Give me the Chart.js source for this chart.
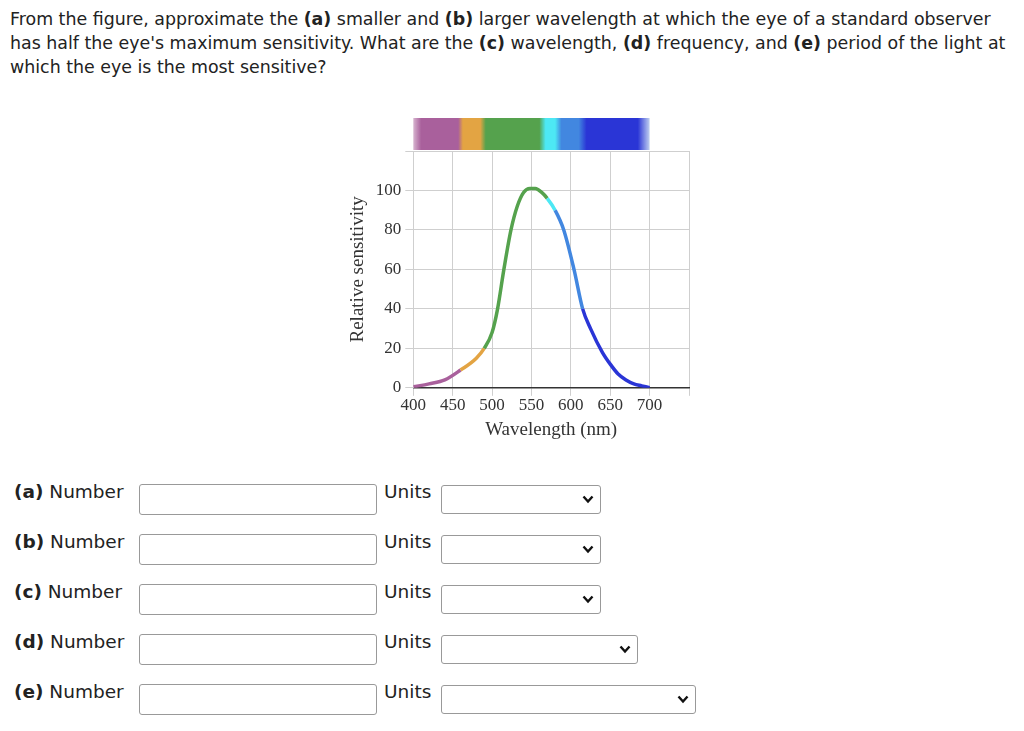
<!DOCTYPE html>
<html><head><meta charset="utf-8">
<script src="https://cdn.jsdelivr.net/npm/chart.js@4"></script>
<style>
body{margin:0;background:#fff;font-family:"DejaVu Sans",sans-serif;color:#222;}
#q{position:absolute;left:10px;top:7px;width:1005px;font-size:17.4px;line-height:24px;}
#c{position:absolute;left:343px;top:110px;}
.row{position:absolute;left:14px;font-size:18.5px;}
.inp{position:absolute;left:139px;width:238px;height:31px;border:1px solid #999;border-radius:3px;box-sizing:border-box;}
.un{position:absolute;left:384px;font-size:18.5px;}
.sel{position:absolute;left:441px;height:29px;border:1px solid #999;border-radius:3px;box-sizing:border-box;}
.sel svg{position:absolute;right:6px;top:9px;}
</style></head><body>
<div id="q">From the figure, approximate the <b>(a)</b> smaller and <b>(b)</b> larger wavelength at which the eye of a standard observer has half the eye's maximum sensitivity. What are the <b>(c)</b> wavelength, <b>(d)</b> frequency, and <b>(e)</b> period of the light at which the eye is the most sensitive?</div>
<canvas id="c" width="350" height="335" style="width:350px;height:335px"></canvas>
<div id="form"></div>
<script>
const wavelengths=[400,420,440,460,480,490,500,507,515,524,532,540,548,555,563,570,580,591,604,615,625,640,650,660,670,680,690,700];
const sensitivity=[0.5,2,4,9,15,20,28,40,60,80,92,99,101,101,99,96,90,80,60,40,30,18,12,7,4,2,1,0];
const xTicks=[400,450,500,550,600,650,700];
const yTicks=[0,20,40,60,80,100];
const bandStops=[[400,'#d7b4cf'],[410,'#a9609c'],[457,'#a9609c'],[463,'#e3a443'],[485,'#e3a443'],[492,'#55a24d'],[560,'#55a24d'],[568,'#4de8f4'],[580,'#4de8f4'],[588,'#4287e0'],[610,'#4287e0'],[620,'#2a35d6'],[685,'#2a35d6'],[700,'#c0d0f0']];
const segStops=[[460,'#a9609c'],[490,'#e3a443'],[572,'#55a24d'],[585,'#4de8f4'],[612,'#4287e0'],[9999,'#2a35d6']];
const rows=['a','b','c','d','e'];
const selW=[160,160,160,197,255];

const f=document.getElementById('form');
rows.forEach((r,i)=>{const y=481+i*50;
f.innerHTML+=`<div class="row" style="top:${y}px"><b>(${r})</b> Number</div><div class="inp" style="top:${y+3}px"></div><div class="un" style="top:${y}px">Units</div><div class="sel" style="top:${y+4}px;width:${selW[i]}px"><svg width="12" height="9"><polyline points="1.5,1.5 6,6.5 10.5,1.5" fill="none" stroke="#111" stroke-width="2.4"/></svg></div>`;});

const band={id:'band',afterDraw(ch){const x=ch.scales.x,c=ch.ctx;const x0=x.getPixelForValue(400),x1=x.getPixelForValue(700);
const g=c.createLinearGradient(x0,0,x1,0);bandStops.forEach(s=>g.addColorStop((s[0]-400)/300,s[1]));
c.fillStyle=g;c.fillRect(x0,ch.chartArea.top-33,x1-x0,32);}};
const col=v=>segStops.find(s=>v<s[0])[1];
new Chart(document.getElementById('c'),{type:'line',
data:{datasets:[{data:wavelengths.map((w,i)=>({x:w,y:sensitivity[i]})),borderWidth:3.5,pointRadius:0,tension:0.4,cubicInterpolationMode:'monotone',
segment:{borderColor:ctx=>col((ctx.p0.parsed.x+ctx.p1.parsed.x)/2)},borderColor:'#55a24d'}]},
plugins:[band],
options:{responsive:false,animation:false,layout:{padding:{top:41,right:4,left:0,bottom:0}},
plugins:{legend:{display:false},tooltip:{enabled:false}},
scales:{x:{type:'linear',min:400,max:750,afterBuildTicks:a=>{a.ticks=xTicks.concat([750]).map(v=>({value:v}))},
ticks:{callback:v=>v===750?'':v,color:'#333',font:{family:'Liberation Serif',size:17},maxRotation:0,padding:0},
grid:{color:'#cfcfcf'},border:{color:'#333',width:1.5},
title:{display:true,text:'Wavelength (nm)',color:'#333',font:{family:'Liberation Serif',size:19},padding:{top:2}}},
y:{min:0,max:120,afterBuildTicks:a=>{a.ticks=yTicks.concat([120]).map(v=>({value:v}))},
ticks:{callback:v=>v===120?'':v,color:'#333',font:{family:'Liberation Serif',size:17},padding:4},
grid:{color:'#cfcfcf'},border:{color:'#cfcfcf'},
title:{display:true,text:'Relative sensitivity',color:'#333',font:{family:'Liberation Serif',size:19},padding:{bottom:2}}}}}});
</script></body></html>
